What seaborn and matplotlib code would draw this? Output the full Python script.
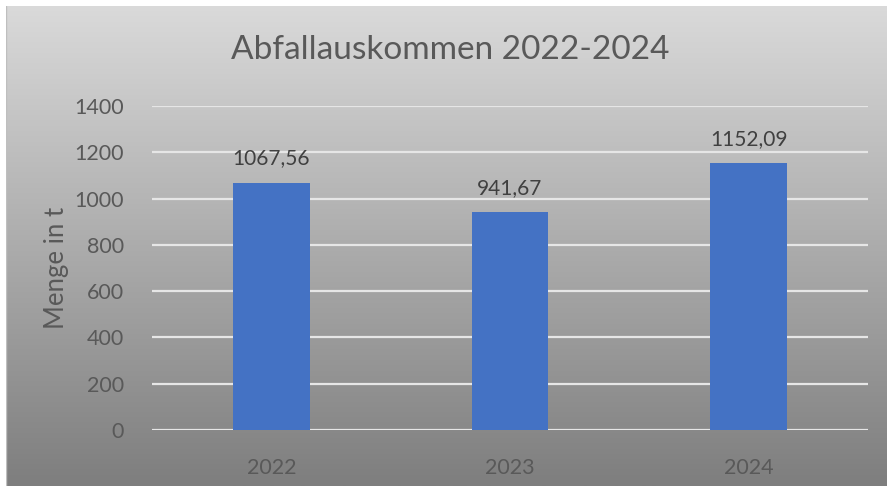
import numpy as np
import pandas as pd
import matplotlib
matplotlib.use("Agg")
import matplotlib.pyplot as plt
import seaborn as sns
from matplotlib.colors import LinearSegmentedColormap

years = ["2022", "2023", "2024"]
amounts = [1067.56, 941.67, 1152.09]
y_ticks = [0, 200, 400, 600, 800, 1000, 1200, 1400]

df = pd.DataFrame({"Jahr": years, "Menge": amounts})

sns.set_style("white")
plt.rcParams["font.family"] = ["Lato", "DejaVu Sans"]

W, H = 888, 486
fig = plt.figure(figsize=(W / 100, H / 100), dpi=100)
fig.patch.set_facecolor("white")

# gradient background (chart area)
bg = fig.add_axes([6 / W, 0, (886 - 6) / W, (H - 6) / H], zorder=0)
grad = np.linspace(0, 1, 256).reshape(-1, 1)
cmap = LinearSegmentedColormap.from_list("bg", ["#dadada", "#7e7e7e"])
bg.imshow(grad, aspect="auto", cmap=cmap, extent=[0, 1, 1, 0])
bg.set_axis_off()
bg.plot([0, 0], [0, 1], color="#bfbfbf", lw=1, transform=bg.transAxes)

# plot area
left, right = 152 / W, 868 / W
top, bottom = 1 - 106 / H, 1 - 430 / H
ax = fig.add_axes([left, bottom, right - left, top - bottom], zorder=1)
ax.patch.set_alpha(0)

sns.barplot(data=df, x="Jahr", y="Menge", color="#4472c4", saturation=1,
            width=0.32, linewidth=0, ax=ax, zorder=3)

ax.set_ylim(0, 1400)
ax.set_yticks(y_ticks)
ax.yaxis.grid(True, color="#e6e6e6", lw=1.6, zorder=0)
ax.set_axisbelow(True)
for s in ax.spines.values():
    s.set_visible(False)
ax.tick_params(axis="both", length=0, labelsize=15.5, colors="#595959")
ax.tick_params(axis="y", pad=20)
ax.tick_params(axis="x", pad=20)
ax.set_xlabel("")
ax.set_ylabel("Menge in t", fontsize=18.5, color="#595959", labelpad=4)

for i, v in enumerate(amounts):
    ax.text(i, v + 62, f"{v:.2f}".replace(".", ","), ha="center", va="bottom",
            fontsize=15, color="#404040")

fig.text(450 / W, 1 - 50 / H, "Abfallauskommen 2022-2024",
         ha="center", va="center", fontsize=24, color="#595959")

fig.savefig("out.png", dpi=100)
